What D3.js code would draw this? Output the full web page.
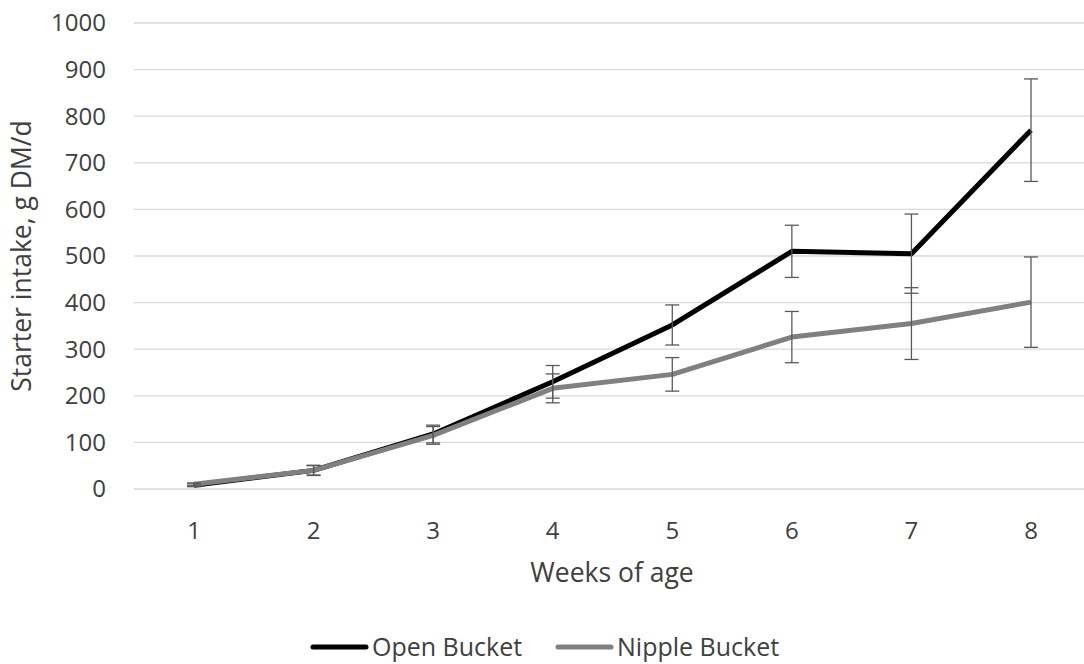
<!DOCTYPE html>
<html><head><meta charset="utf-8">
<script src="https://cdn.jsdelivr.net/npm/d3@7"></script>
<style>body{margin:0;background:#fff}text{font-family:"Open Sans","Noto Sans",sans-serif;fill:#404040}</style>
</head><body><svg id="c" width="1084" height="664"></svg>
<script>
const weeks = ["1","2","3","4","5","6","7","8"];
const openMean = [8, 40, 118, 230, 352, 510, 505, 770];
const openErr  = [3, 11, 19, 35, 43, 56, 85, 110];
const nippleMean = [10, 40, 115, 216, 246, 326, 355, 401];
const nippleErr  = [3, 10, 19, 31, 36, 55, 77, 97];
const yTicks = [0,100,200,300,400,500,600,700,800,900,1000];

const svg = d3.select("#c");
const x = d3.scalePoint().domain(weeks).range([194, 1031]);
const y = d3.scaleLinear().domain([0,1000]).range([489, 23]);
const left = 134, right = 1091;

svg.append("g").selectAll("line").data(yTicks).join("line")
  .attr("x1", left).attr("x2", right)
  .attr("y1", d=>y(d)).attr("y2", d=>y(d))
  .attr("stroke", "#d9d9d9").attr("stroke-width", 1.3);

svg.append("g").selectAll("text").data(yTicks).join("text")
  .attr("x", 106).attr("y", d=>y(d)).attr("dy", "0.35em")
  .attr("text-anchor", "end").attr("font-size", 24).text(d=>d);

svg.append("g").selectAll("text").data(weeks).join("text")
  .attr("x", d=>x(d)).attr("y", 531).attr("dy", "0.35em")
  .attr("text-anchor", "middle").attr("font-size", 24).text(d=>d);

svg.append("text").attr("x", 612).attr("y", 573).attr("dy","0.35em")
  .attr("text-anchor","middle").attr("font-size", 26.5).text("Weeks of age");
svg.append("text").attr("transform","translate(22,256) rotate(-90)").attr("dy","0.35em")
  .attr("text-anchor","middle").attr("font-size", 26.5).text("Starter intake, g DM/d");

const series = [
  {name:"Open Bucket", mean: openMean, err: openErr, color:"#000000"},
  {name:"Nipple Bucket", mean: nippleMean, err: nippleErr, color:"#808080"}
];
const line = d3.line().x((d,i)=>x(weeks[i])).y(d=>y(d));

series.forEach(s=>{
  svg.append("path").datum(s.mean).attr("d", line)
    .attr("fill","none").attr("stroke", s.color).attr("stroke-width", 5)
    .attr("stroke-linejoin","round");
});
series.forEach(s=>{
  const g = svg.append("g").attr("stroke","#595959").attr("stroke-width",1.3);
  s.mean.forEach((m,i)=>{
    const cx = x(weeks[i]);
    const t = y(m + s.err[i]), b = y(m - s.err[i]);
    g.append("line").attr("x1",cx).attr("x2",cx).attr("y1",t).attr("y2",b);
    g.append("line").attr("x1",cx-7).attr("x2",cx+7).attr("y1",t).attr("y2",t);
    g.append("line").attr("x1",cx-7).attr("x2",cx+7).attr("y1",b).attr("y2",b);
  });
});

const legend = [{name:"Open Bucket", color:"#000000", x:313},{name:"Nipple Bucket", color:"#808080", x:558}];
legend.forEach(l=>{
  svg.append("line").attr("x1",l.x).attr("x2",l.x+53).attr("y1",647).attr("y2",647)
    .attr("stroke",l.color).attr("stroke-width",5).attr("stroke-linecap","round");
  svg.append("text").attr("x",l.x+59).attr("y",647).attr("dy","0.35em")
    .attr("font-size",25).text(l.name);
});
</script></body></html>
